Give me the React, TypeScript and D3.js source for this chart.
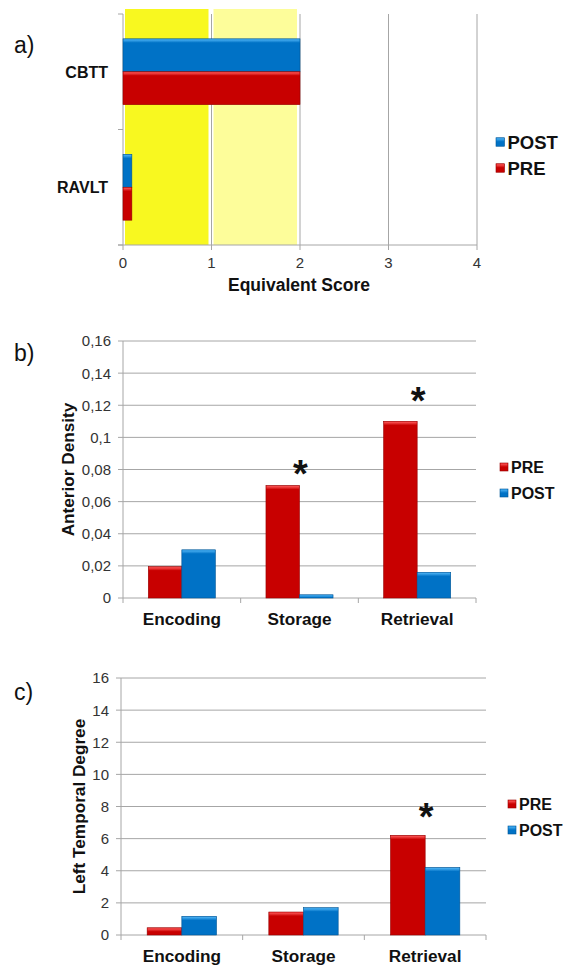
import React, { useEffect, useRef } from 'react';
import * as d3 from 'd3';

// panel a) equivalent scores
const scoreTests = ['CBTT', 'RAVLT'];
const scorePre = [2, 0.1];
const scorePost = [2, 0.1];
const scoreTicks = [0, 1, 2, 3, 4];
const scoreBands = [[0, 1], [1, 2]];

// panel b) anterior density
const phases = ['Encoding', 'Storage', 'Retrieval'];
const densityPre = [0.0195, 0.07, 0.11];
const densityPost = [0.03, 0.002, 0.016];
const densityStars = [null, 0.083, 0.128];
const densityTicks = [0, 0.02, 0.04, 0.06, 0.08, 0.1, 0.12, 0.14, 0.16];

// panel c) left temporal degree
const degreePre = [0.45, 1.43, 6.2];
const degreePost = [1.16, 1.7, 4.2];
const degreeStars = [null, null, 7.9];
const degreeTicks = [0, 2, 4, 6, 8, 10, 12, 14, 16];

const FONT = '"Liberation Sans", Arial, sans-serif';
const RED = '#C80000';
const BLUE = '#0072C6';
const GRID = '#A6A6A6';

const comma = (v: number) => String(+v.toFixed(2)).replace('.', ',');

function App() {
  const ref = useRef<SVGSVGElement>(null);

  useEffect(() => {
    if (!ref.current) return;
    const svg = d3.select(ref.current);
    svg.selectAll('*').remove();

    const defs = svg.append('defs');
    const grad = (id: string, light: string, base: string) => {
      const g = defs.append('linearGradient').attr('id', id)
        .attr('x1', 0).attr('y1', 0).attr('x2', 0).attr('y2', 1);
      g.append('stop').attr('offset', 0).attr('stop-color', light);
      g.append('stop').attr('offset', 1).attr('stop-color', base);
    };
    grad('redTop', '#FF5A5A', RED);
    grad('blueTop', '#4FB4F5', BLUE);

    // bar with a small bevel on top, like the office 3D style
    const bar = (g: any, x: number, y: number, w: number, h: number, color: string) => {
      if (w <= 0 || h <= 0) return;
      g.append('rect').attr('x', x).attr('y', y).attr('width', w).attr('height', h)
        .attr('fill', color).attr('stroke', d3.color(color)!.darker(0.8).toString())
        .attr('stroke-width', 0.6);
      g.append('rect').attr('x', x + 0.5).attr('y', y + 0.5)
        .attr('width', Math.max(0, w - 1)).attr('height', Math.min(3.5, h - 1))
        .attr('fill', color === RED ? 'url(#redTop)' : 'url(#blueTop)');
    };

    const legend = (g: any, items: [string, string][], x: number, ys: number[], size: number, sq: number) => {
      items.forEach(([name, color], i) => {
        bar(g, x, ys[i] - sq / 2, sq, sq, color);
        g.append('text').attr('x', x + sq + 3).attr('y', ys[i]).attr('dy', '0.36em')
          .attr('font-size', size).attr('font-weight', 'bold').attr('font-family', FONT)
          .attr('fill', '#111').text(name);
      });
    };

    const panelLabel = (t: string, y: number) => {
      svg.append('text').attr('x', 14).attr('y', y).attr('dy', '0.36em')
        .attr('font-size', 23).attr('font-family', FONT).attr('fill', '#111').text(t);
    };

    // ---------- a) horizontal bars ----------
    {
      const g = svg.append('g');
      const x = d3.scaleLinear().domain([0, 4]).range([123, 477]);
      const y = d3.scaleBand().domain(scoreTests).range([14, 245]).padding(0);
      const bands = ['#F8F820', '#FDFD9A'];
      scoreBands.forEach((b, i) => {
        g.append('rect').attr('x', x(b[0]) + 2).attr('y', 9)
          .attr('width', x(b[1]) - x(b[0]) - 5).attr('height', 245 - 9)
          .attr('fill', bands[i]);
      });
      scoreTicks.slice(1).forEach(t => {
        g.append('line').attr('x1', x(t)).attr('x2', x(t)).attr('y1', 14).attr('y2', 250)
          .attr('stroke', GRID).attr('stroke-width', 1);
      });
      g.append('line').attr('x1', 118).attr('x2', x(4)).attr('y1', 245).attr('y2', 245)
        .attr('stroke', GRID);
      g.append('line').attr('x1', x(0)).attr('x2', x(0)).attr('y1', 14).attr('y2', 250)
        .attr('stroke', GRID);
      [14, y('RAVLT')!, 245].forEach(v => {
        g.append('line').attr('x1', 118).attr('x2', x(0)).attr('y1', v).attr('y2', v)
          .attr('stroke', GRID);
      });
      const inner = d3.scaleBand().domain(['POST', 'PRE'])
        .range([y.bandwidth() * 0.215, y.bandwidth() * 0.785]);
      scoreTests.forEach((t, i) => {
        const y0 = y(t)!;
        bar(g, x(0), y0 + inner('POST')!, x(scorePost[i]) - x(0), inner.bandwidth(), BLUE);
        bar(g, x(0), y0 + inner('PRE')!, x(scorePre[i]) - x(0), inner.bandwidth(), RED);
        g.append('text').attr('x', 108).attr('y', y0 + y.bandwidth() / 2).attr('dy', '0.36em')
          .attr('text-anchor', 'end').attr('font-size', 16).attr('font-weight', 'bold')
          .attr('font-family', FONT).attr('fill', '#111').text(t);
      });
      scoreTicks.forEach(t => {
        g.append('text').attr('x', x(t)).attr('y', 263).attr('dy', '0.36em')
          .attr('text-anchor', 'middle').attr('font-size', 15).attr('font-family', FONT)
          .attr('fill', '#333').text(t);
      });
      g.append('text').attr('x', 299).attr('y', 285).attr('dy', '0.36em')
        .attr('text-anchor', 'middle').attr('font-size', 17.5).attr('font-weight', 'bold')
        .attr('font-family', FONT).attr('fill', '#111').text('Equivalent Score');
      legend(g, [['POST', BLUE], ['PRE', RED]], 496, [142, 168], 18.5, 8.5);
      panelLabel('a)', 45);
    }

    // ---------- b) and c) vertical bars ----------
    const columns = (opts: any) => {
      const g = svg.append('g');
      const { left, right, top, bottom, domainMax, ticks, pre, post, stars, title, titleX,
        labelY, tickX, legendX, legendY } = opts;
      const y = d3.scaleLinear().domain([0, domainMax]).range([bottom, top]);
      const x = d3.scaleBand().domain(phases).range([left, right]).padding(0);
      ticks.forEach((t: number) => {
        g.append('line').attr('x1', left - 5).attr('x2', right).attr('y1', y(t)).attr('y2', y(t))
          .attr('stroke', GRID);
        g.append('text').attr('x', tickX).attr('y', y(t)).attr('dy', '0.36em')
          .attr('text-anchor', 'end').attr('font-size', 15).attr('font-family', FONT)
          .attr('fill', '#333').text(comma(t));
      });
      g.append('line').attr('x1', left).attr('x2', left).attr('y1', top).attr('y2', bottom + 5)
        .attr('stroke', GRID);
      phases.forEach(p => {
        g.append('line').attr('x1', x(p)! + x.bandwidth()).attr('x2', x(p)! + x.bandwidth())
          .attr('y1', bottom).attr('y2', bottom + 5).attr('stroke', GRID);
      });
      const inner = d3.scaleBand().domain(['PRE', 'POST'])
        .range([x.bandwidth() * 0.215, x.bandwidth() * 0.785]);
      phases.forEach((p, i) => {
        const x0 = x(p)!;
        bar(g, x0 + inner('PRE')!, y(pre[i]), inner.bandwidth(), bottom - y(pre[i]), RED);
        bar(g, x0 + inner('POST')!, y(post[i]), inner.bandwidth(), bottom - y(post[i]), BLUE);
        g.append('text').attr('x', x0 + x.bandwidth() / 2).attr('y', labelY).attr('dy', '0.36em')
          .attr('text-anchor', 'middle').attr('font-size', 17.2).attr('font-weight', 'bold')
          .attr('font-family', FONT).attr('fill', '#111').text(p);
        if (stars[i] != null) {
          g.append('text').attr('x', x0 + x.bandwidth() / 2 + 1).attr('y', y(stars[i]) + 22)
            .attr('text-anchor', 'middle').attr('font-size', 38).attr('font-weight', 'bold')
            .attr('font-family', FONT).attr('fill', '#111').text('*');
        }
      });
      const mid = (top + bottom) / 2;
      g.append('text').attr('transform', `translate(${titleX},${mid}) rotate(-90)`)
        .attr('dy', '0.36em').attr('text-anchor', 'middle').attr('font-size', 17.2)
        .attr('font-weight', 'bold').attr('font-family', FONT).attr('fill', '#111').text(title);
      legend(g, [['PRE', RED], ['POST', BLUE]], legendX, legendY, 16, 8);
    };

    columns({
      left: 123, right: 476, top: 341, bottom: 598, domainMax: 0.16, ticks: densityTicks,
      pre: densityPre, post: densityPost, stars: densityStars, title: 'Anterior Density',
      titleX: 68, labelY: 619, tickX: 111, legendX: 500, legendY: [467, 493],
    });
    panelLabel('b)', 353);

    columns({
      left: 121, right: 486, top: 678, bottom: 935, domainMax: 16, ticks: degreeTicks,
      pre: degreePre, post: degreePost, stars: degreeStars, title: 'Left Temporal Degree',
      titleX: 79, labelY: 956, tickX: 109, legendX: 508, legendY: [804, 830],
    });
    panelLabel('c)', 692);
  }, []);

  return (
    <svg ref={ref} width={567} height={965}
      style={{ position: 'absolute', left: 0, top: 0, background: '#fff' }} />
  );
}

export default App;
